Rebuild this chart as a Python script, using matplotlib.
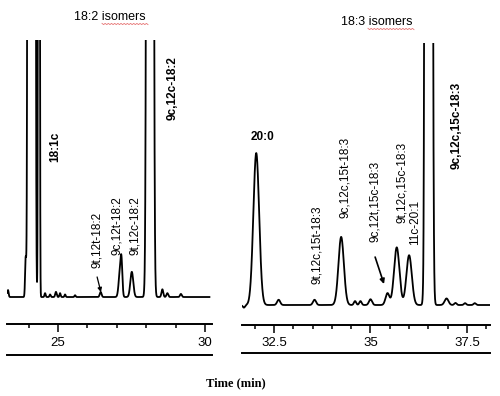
import numpy as np
import matplotlib
matplotlib.use("Agg")
import matplotlib.pyplot as plt

# ---------------- data ----------------
# Left panel: 18:2 isomers.  Peaks: retention time (min), height (rel.), sigma (min)
left_peak_times   = [23.30, 23.90, 24.10, 24.35, 24.56, 24.73, 24.93, 25.07, 25.24, 25.58,
                     26.45, 27.11, 27.16, 27.51, 28.13, 28.55, 28.72, 29.18]
left_peak_heights = [2.7, 15.0, 81000.0, 1100.0, 1.5, 1.0, 2.0, 1.5, 1.0, 0.7,
                     2.0, 10.0, 10.5, 9.8, 5000.0, 3.0, 1.5, 1.2]
left_peak_sigmas  = [0.02, 0.02, 0.0417, 0.018, 0.02, 0.02, 0.025, 0.02, 0.02, 0.02,
                     0.03, 0.045, 0.03, 0.05, 0.052, 0.03, 0.03, 0.03]
left_trace_range = [23.28, 30.15]

# Right panel: 18:3 isomers
right_peak_times   = [31.72, 32.04, 32.62, 33.55, 34.24, 34.60, 34.74, 35.00, 35.44,
                      35.68, 36.00, 36.40, 36.51, 36.97, 37.20, 37.45, 37.70]
right_peak_heights = [-1.0, 58.0, 2.0, 2.0, 26.0, 1.5, 1.5, 2.2, 4.5,
                      22.0, 19.0, 60.0, 5000.0, 2.5, 0.8, 0.7, 0.7]
right_peak_sigmas  = [0.03, 0.075, 0.04, 0.04, 0.07, 0.03, 0.03, 0.04, 0.05,
                      0.07, 0.07, 0.012, 0.0415, 0.05, 0.03, 0.03, 0.03]
right_trace_range = [31.68, 38.08]

left_ticks_major = [25, 30]
left_ticks_minor = [24, 26, 27, 28, 29]
right_ticks_major = [32.5, 35, 37.5]
right_ticks_minor = [32.0, 33.0, 33.5, 34.0, 34.5, 35.5, 36.0, 36.5, 37.0, 38.0]

left_title = "18:2 isomers"
right_title = "18:3 isomers"
xlabel = "Time (min)"

left_labels = ["18:1c", "9c,12c-18:2", "9t,12t-18:2", "9c,12t-18:2", "9t,12c-18:2"]
right_labels = ["20:0", "9t,12c,15t-18:3", "9c,12c,15t-18:3", "9c,12t,15c-18:3",
                "9t,12c,15c-18:3", "11c-20:1", "9c,12c,15c-18:3"]

# ---------------- build traces ----------------
def trace(times, heights, sigmas, rng):
    t = np.linspace(rng[0], rng[1], 6000)
    y = np.zeros_like(t)
    for c, h, s in zip(times, heights, sigmas):
        y += h * np.exp(-(t - c) ** 2 / (2 * s ** 2))
    return t, y

W, H = 500, 396
fig = plt.figure(figsize=(W / 100, H / 100), dpi=100)
fig.patch.set_facecolor("white")

sans = ["Liberation Sans", "DejaVu Sans"]
narrow = ["Liberation Sans Narrow", "Liberation Sans", "DejaVu Sans"]

def make_axes(rect, xlim, ylim, low_line):
    ax = fig.add_axes(rect)
    ax.set_xlim(*xlim)
    ax.set_ylim(*ylim)
    for s in ["top", "left", "right"]:
        ax.spines[s].set_visible(False)
    ax.spines["bottom"].set_linewidth(1.4)
    ax.set_yticks([])
    ax.tick_params(axis="x", which="major", direction="out", length=6, width=1.1,
                   pad=3, labelsize=9.5)
    ax.tick_params(axis="x", which="minor", direction="out", length=3, width=1.1)
    ax.plot([0, 1], [low_line, low_line], transform=ax.transAxes, color="black",
            lw=1.4, clip_on=False)
    ax.set_facecolor("none")
    return ax

# Left axes
axL = make_axes([7 / W, (H - 324) / H, 205 / W, 284 / H], (23.265, 30.238), (-10.5, 100), -0.109)
tL, yL = trace(left_peak_times, left_peak_heights, left_peak_sigmas, left_trace_range)
axL.plot(tL, yL, color="black", lw=1.3)
axL.set_xticks(left_ticks_major)
axL.set_xticks(left_ticks_minor, minor=True)
axL.set_xticklabels([str(v) for v in left_ticks_major], family=narrow)

# Right axes
axR = make_axes([242 / W, (H - 325) / H, 248 / W, 282 / H], (31.671, 38.096), (-7.63, 100), -0.099)
tR, yR = trace(right_peak_times, right_peak_heights, right_peak_sigmas, right_trace_range)
axR.plot(tR, yR, color="black", lw=1.3)
axR.set_xticks(right_ticks_major)
axR.set_xticks(right_ticks_minor, minor=True)
axR.set_xticklabels(["32.5", "35", "37.5"], family=narrow)

# Peak labels
fs = 8.5
lpos = [(24.90, 58.4, "bold"), (28.91, 81.3, "bold"), (26.33, 22.2, "normal"),
        (27.01, 27.6, "normal"), (27.62, 27.6, "normal")]
for txt, (x, y, w) in zip(left_labels, lpos):
    axL.text(x, y, txt, rotation=90, ha="center", va="center", fontsize=fs,
             family=sans, fontweight=w)
axL.annotate("", xy=(26.46, 1.9), xytext=(26.33, 7.8),
             arrowprops=dict(arrowstyle="-|>", color="black", lw=0.9,
                             mutation_scale=6, shrinkA=0, shrinkB=0))

rpos = [(32.19, 64.1, 0, "bold"), (33.61, 22.9, 90, "normal"), (34.34, 48.5, 90, "normal"),
        (35.12, 39.7, 90, "normal"), (35.82, 46.6, 90, "normal"), (36.15, 31.7, 90, "normal"),
        (37.24, 68.7, 90, "bold")]
for txt, (x, y, r, w) in zip(right_labels, rpos):
    axR.text(x, y, txt, rotation=r, ha="center", va="center", fontsize=fs,
             family=sans, fontweight=w)
axR.annotate("", xy=(35.35, 8.0), xytext=(35.12, 18.3),
             arrowprops=dict(arrowstyle="-|>", color="black", lw=1.2,
                             mutation_scale=7, shrinkA=0, shrinkB=0))

# Titles and x label
fig.text(110 / W, 1 - 17 / H, left_title, ha="center", va="center", fontsize=9, family=sans)
fig.text(377 / W, 1 - 22 / H, right_title, ha="center", va="center", fontsize=9, family=sans)
fig.text(236 / W, 1 - 383 / H, xlabel, ha="center", va="center", fontsize=9,
         family=["Liberation Serif", "DejaVu Serif"], fontweight="bold")

# faint red spell-check underline under "isomers" (as in the source image)
for x0, x1, yy in [(102, 148, 24), (368, 414, 29)]:
    xs = np.linspace(x0, x1, 30) / W
    ys = (1 - yy / H) + np.where(np.arange(30) % 2 == 0, 0.6, -0.6) / H
    fig.add_artist(plt.Line2D(xs, ys, color="#e05050", lw=0.6, alpha=0.8))

fig.savefig("out.png", dpi=100)
